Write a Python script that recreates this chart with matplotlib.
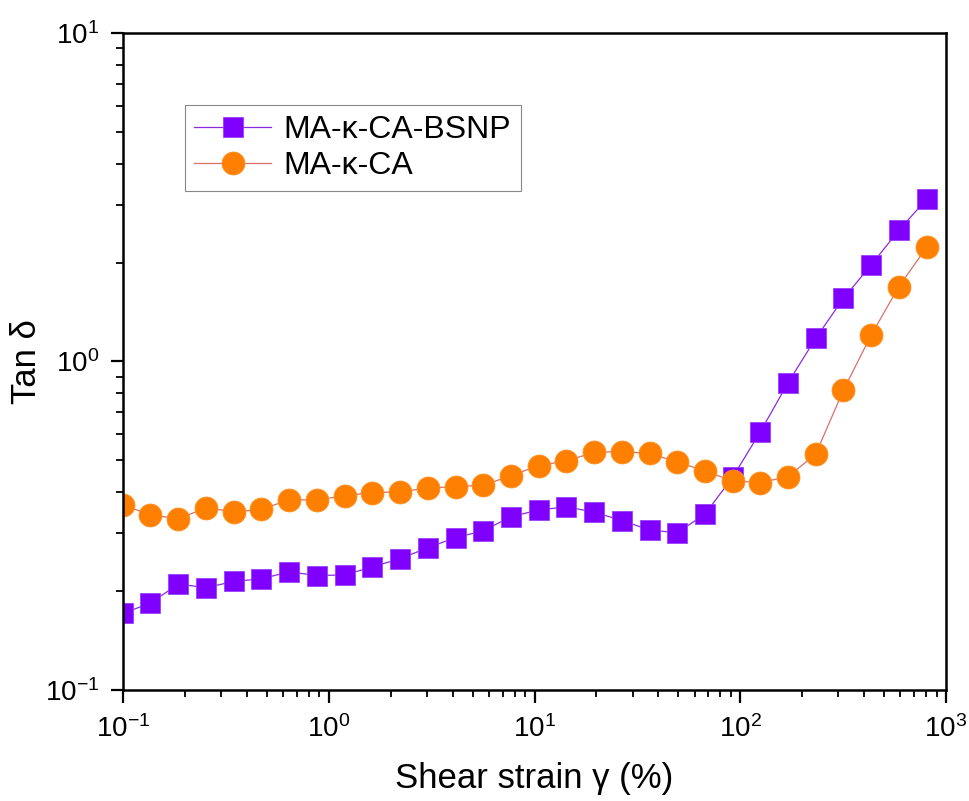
import matplotlib
matplotlib.use("Agg")
import matplotlib.pyplot as plt
from matplotlib.ticker import LogLocator, NullFormatter

plt.rcParams['font.family'] = ['Liberation Sans', 'DejaVu Sans']
plt.rcParams['mathtext.default'] = 'regular'
plt.rcParams['axes.unicode_minus'] = False

# shear strain (%) values
strain = [0.1, 0.136, 0.186, 0.254, 0.346, 0.471, 0.643, 0.876, 1.195, 1.629,
          2.222, 3.029, 4.131, 5.633, 7.681, 10.47, 14.28, 19.47, 26.55, 36.21,
          49.37, 67.32, 91.80, 125.2, 170.7, 232.7, 317.4, 432.8, 590.1, 804.7]

# tan delta, MA-k-CA-BSNP
tan_bsnp = [0.171, 0.184, 0.210, 0.205, 0.214, 0.218, 0.229, 0.223, 0.224, 0.237,
            0.251, 0.271, 0.291, 0.305, 0.337, 0.353, 0.361, 0.348, 0.328, 0.307,
            0.301, 0.343, 0.444, 0.611, 0.862, 1.177, 1.557, 1.968, 2.51, 3.12]

# tan delta, MA-k-CA
tan_ca = [0.366, 0.341, 0.332, 0.359, 0.348, 0.355, 0.379, 0.379, 0.390, 0.399,
          0.401, 0.412, 0.416, 0.420, 0.449, 0.482, 0.498, 0.529, 0.532, 0.525,
          0.495, 0.464, 0.433, 0.428, 0.446, 0.523, 0.819, 1.204, 1.69, 2.227]

fig = plt.figure(figsize=(9.7, 8.01), dpi=100)
ax = fig.add_axes([0.1268, 0.1386, 0.8485, 0.8202])

ax.plot(strain, tan_bsnp, c="#8A2BE2", lw=0.9, marker="s", ms=14,
        mfc="#7F00FF", mec="#9A40FF", mew=0.6, label="MA-κ-CA-BSNP")
ax.plot(strain, tan_ca, c="#D9706A", lw=0.9, marker="o", ms=16.5,
        mfc="#FF8000", mec="#FF9020", mew=0.6, label="MA-κ-CA")

ax.set_xscale("log")
ax.set_yscale("log")
ax.set_xlim(0.1, 1000)
ax.set_ylim(0.1, 10)

ax.xaxis.set_minor_locator(LogLocator(base=10, subs=range(2, 10)))
ax.yaxis.set_minor_locator(LogLocator(base=10, subs=range(2, 10)))
ax.xaxis.set_minor_formatter(NullFormatter())
ax.yaxis.set_minor_formatter(NullFormatter())

ax.tick_params(axis="both", which="major", direction="out", length=9, width=1.6,
               labelsize=20, top=False, right=False)
ax.tick_params(axis="both", which="minor", direction="out", length=5, width=1.3,
               top=False, right=False)
ax.tick_params(axis="x", which="major", pad=9)
ax.tick_params(axis="y", which="major", pad=8)

for s in ax.spines.values():
    s.set_linewidth(1.8)

ax.set_xlabel("Shear strain γ (%)", fontsize=25, labelpad=14)
ax.set_ylabel("Tan δ", fontsize=25)
ax.yaxis.set_label_coords(-0.097, 0.5)

leg = ax.legend(loc="upper left", bbox_to_anchor=(0.075, 0.89), fontsize=23,
                fancybox=False, edgecolor="#888888", framealpha=1,
                handlelength=2.4, borderpad=0.3, labelspacing=0.2,
                handletextpad=0.4, borderaxespad=0)
leg.get_frame().set_linewidth(0.8)

fig.savefig("out.png", dpi=100)
